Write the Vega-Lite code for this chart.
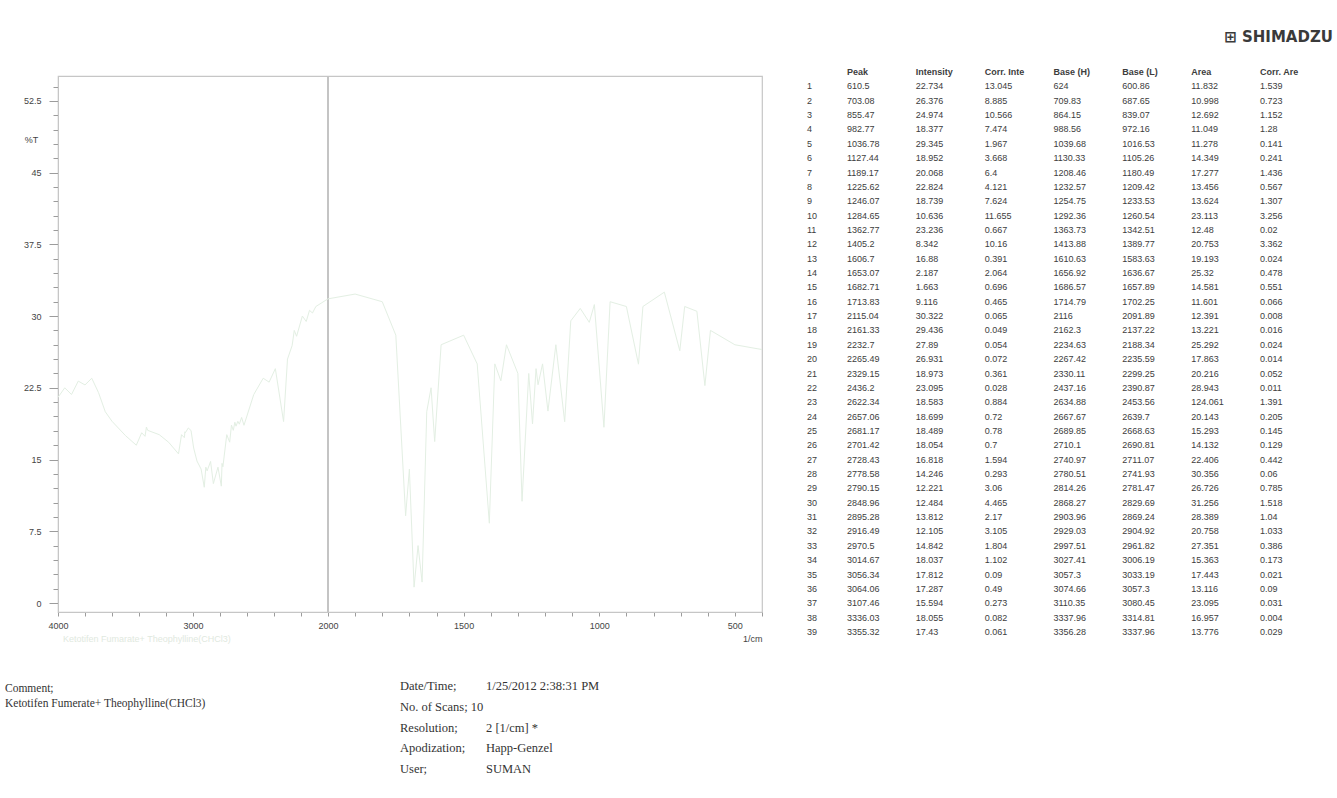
{
  "$schema": "https://vega.github.io/schema/vega-lite/v6.json",
  "width": 704,
  "height": 536,
  "autosize": {"type": "none"},
  "padding": {"left": 58, "top": 76, "right": 575, "bottom": 186},
  "background": "#ffffff",
  "config": {
    "view": {"stroke": "#c6c6c6", "strokeWidth": 1.2},
    "font": "Liberation Sans"
  },
  "title": {
    "text": "⊞ SHIMADZU",
    "anchor": "end",
    "frame": "group",
    "font": "DejaVu Sans",
    "fontSize": 15,
    "fontWeight": "bold",
    "color": "#3a3a3a",
    "baseline": "middle",
    "offset": 0,
    "dx": 571,
    "dy": -16
  },
  "datasets": {
    "spectrum": [
      {"wavenumber": 4000, "T": 21.5, "sample": "Ketotifen Fumarate+ Theophylline(CHCl3)"},
      {"wavenumber": 3950, "T": 22.5, "sample": "Ketotifen Fumarate+ Theophylline(CHCl3)"},
      {"wavenumber": 3900, "T": 21.8, "sample": "Ketotifen Fumarate+ Theophylline(CHCl3)"},
      {"wavenumber": 3850, "T": 23.2, "sample": "Ketotifen Fumarate+ Theophylline(CHCl3)"},
      {"wavenumber": 3800, "T": 22.8, "sample": "Ketotifen Fumarate+ Theophylline(CHCl3)"},
      {"wavenumber": 3750, "T": 23.5, "sample": "Ketotifen Fumarate+ Theophylline(CHCl3)"},
      {"wavenumber": 3700, "T": 22.0, "sample": "Ketotifen Fumarate+ Theophylline(CHCl3)"},
      {"wavenumber": 3650, "T": 20.0, "sample": "Ketotifen Fumarate+ Theophylline(CHCl3)"},
      {"wavenumber": 3600, "T": 19.0, "sample": "Ketotifen Fumarate+ Theophylline(CHCl3)"},
      {"wavenumber": 3500, "T": 17.5, "sample": "Ketotifen Fumarate+ Theophylline(CHCl3)"},
      {"wavenumber": 3420, "T": 16.5, "sample": "Ketotifen Fumarate+ Theophylline(CHCl3)"},
      {"wavenumber": 3380, "T": 17.8, "sample": "Ketotifen Fumarate+ Theophylline(CHCl3)"},
      {"wavenumber": 3355.32, "T": 17.43, "sample": "Ketotifen Fumarate+ Theophylline(CHCl3)"},
      {"wavenumber": 3345, "T": 18.4, "sample": "Ketotifen Fumarate+ Theophylline(CHCl3)"},
      {"wavenumber": 3336.03, "T": 18.055, "sample": "Ketotifen Fumarate+ Theophylline(CHCl3)"},
      {"wavenumber": 3250, "T": 17.6, "sample": "Ketotifen Fumarate+ Theophylline(CHCl3)"},
      {"wavenumber": 3180, "T": 16.8, "sample": "Ketotifen Fumarate+ Theophylline(CHCl3)"},
      {"wavenumber": 3107.46, "T": 15.594, "sample": "Ketotifen Fumarate+ Theophylline(CHCl3)"},
      {"wavenumber": 3085, "T": 17.6, "sample": "Ketotifen Fumarate+ Theophylline(CHCl3)"},
      {"wavenumber": 3064.06, "T": 17.287, "sample": "Ketotifen Fumarate+ Theophylline(CHCl3)"},
      {"wavenumber": 3060, "T": 17.9, "sample": "Ketotifen Fumarate+ Theophylline(CHCl3)"},
      {"wavenumber": 3056.34, "T": 17.812, "sample": "Ketotifen Fumarate+ Theophylline(CHCl3)"},
      {"wavenumber": 3035, "T": 18.3, "sample": "Ketotifen Fumarate+ Theophylline(CHCl3)"},
      {"wavenumber": 3014.67, "T": 18.037, "sample": "Ketotifen Fumarate+ Theophylline(CHCl3)"},
      {"wavenumber": 2995, "T": 16.2, "sample": "Ketotifen Fumarate+ Theophylline(CHCl3)"},
      {"wavenumber": 2970.5, "T": 14.842, "sample": "Ketotifen Fumarate+ Theophylline(CHCl3)"},
      {"wavenumber": 2940, "T": 14.0, "sample": "Ketotifen Fumarate+ Theophylline(CHCl3)"},
      {"wavenumber": 2916.49, "T": 12.105, "sample": "Ketotifen Fumarate+ Theophylline(CHCl3)"},
      {"wavenumber": 2905, "T": 14.2, "sample": "Ketotifen Fumarate+ Theophylline(CHCl3)"},
      {"wavenumber": 2895.28, "T": 13.812, "sample": "Ketotifen Fumarate+ Theophylline(CHCl3)"},
      {"wavenumber": 2870, "T": 14.8, "sample": "Ketotifen Fumarate+ Theophylline(CHCl3)"},
      {"wavenumber": 2848.96, "T": 12.484, "sample": "Ketotifen Fumarate+ Theophylline(CHCl3)"},
      {"wavenumber": 2815, "T": 14.2, "sample": "Ketotifen Fumarate+ Theophylline(CHCl3)"},
      {"wavenumber": 2790.15, "T": 12.221, "sample": "Ketotifen Fumarate+ Theophylline(CHCl3)"},
      {"wavenumber": 2785, "T": 14.6, "sample": "Ketotifen Fumarate+ Theophylline(CHCl3)"},
      {"wavenumber": 2778.58, "T": 14.246, "sample": "Ketotifen Fumarate+ Theophylline(CHCl3)"},
      {"wavenumber": 2750, "T": 17.6, "sample": "Ketotifen Fumarate+ Theophylline(CHCl3)"},
      {"wavenumber": 2728.43, "T": 16.818, "sample": "Ketotifen Fumarate+ Theophylline(CHCl3)"},
      {"wavenumber": 2715, "T": 18.6, "sample": "Ketotifen Fumarate+ Theophylline(CHCl3)"},
      {"wavenumber": 2701.42, "T": 18.054, "sample": "Ketotifen Fumarate+ Theophylline(CHCl3)"},
      {"wavenumber": 2690, "T": 18.9, "sample": "Ketotifen Fumarate+ Theophylline(CHCl3)"},
      {"wavenumber": 2681.17, "T": 18.489, "sample": "Ketotifen Fumarate+ Theophylline(CHCl3)"},
      {"wavenumber": 2668, "T": 19.0, "sample": "Ketotifen Fumarate+ Theophylline(CHCl3)"},
      {"wavenumber": 2657.06, "T": 18.699, "sample": "Ketotifen Fumarate+ Theophylline(CHCl3)"},
      {"wavenumber": 2640, "T": 19.4, "sample": "Ketotifen Fumarate+ Theophylline(CHCl3)"},
      {"wavenumber": 2622.34, "T": 18.583, "sample": "Ketotifen Fumarate+ Theophylline(CHCl3)"},
      {"wavenumber": 2550, "T": 21.8, "sample": "Ketotifen Fumarate+ Theophylline(CHCl3)"},
      {"wavenumber": 2480, "T": 23.5, "sample": "Ketotifen Fumarate+ Theophylline(CHCl3)"},
      {"wavenumber": 2436.2, "T": 23.095, "sample": "Ketotifen Fumarate+ Theophylline(CHCl3)"},
      {"wavenumber": 2390, "T": 24.5, "sample": "Ketotifen Fumarate+ Theophylline(CHCl3)"},
      {"wavenumber": 2329.15, "T": 18.973, "sample": "Ketotifen Fumarate+ Theophylline(CHCl3)"},
      {"wavenumber": 2300, "T": 25.5, "sample": "Ketotifen Fumarate+ Theophylline(CHCl3)"},
      {"wavenumber": 2265.49, "T": 26.931, "sample": "Ketotifen Fumarate+ Theophylline(CHCl3)"},
      {"wavenumber": 2250, "T": 28.5, "sample": "Ketotifen Fumarate+ Theophylline(CHCl3)"},
      {"wavenumber": 2232.7, "T": 27.89, "sample": "Ketotifen Fumarate+ Theophylline(CHCl3)"},
      {"wavenumber": 2190, "T": 30.0, "sample": "Ketotifen Fumarate+ Theophylline(CHCl3)"},
      {"wavenumber": 2161.33, "T": 29.436, "sample": "Ketotifen Fumarate+ Theophylline(CHCl3)"},
      {"wavenumber": 2137, "T": 30.6, "sample": "Ketotifen Fumarate+ Theophylline(CHCl3)"},
      {"wavenumber": 2115.04, "T": 30.322, "sample": "Ketotifen Fumarate+ Theophylline(CHCl3)"},
      {"wavenumber": 2090, "T": 31.0, "sample": "Ketotifen Fumarate+ Theophylline(CHCl3)"},
      {"wavenumber": 2000, "T": 31.8, "sample": "Ketotifen Fumarate+ Theophylline(CHCl3)"},
      {"wavenumber": 1900, "T": 32.3, "sample": "Ketotifen Fumarate+ Theophylline(CHCl3)"},
      {"wavenumber": 1800, "T": 31.5, "sample": "Ketotifen Fumarate+ Theophylline(CHCl3)"},
      {"wavenumber": 1750, "T": 28.0, "sample": "Ketotifen Fumarate+ Theophylline(CHCl3)"},
      {"wavenumber": 1713.83, "T": 9.116, "sample": "Ketotifen Fumarate+ Theophylline(CHCl3)"},
      {"wavenumber": 1700, "T": 14.0, "sample": "Ketotifen Fumarate+ Theophylline(CHCl3)"},
      {"wavenumber": 1682.71, "T": 1.663, "sample": "Ketotifen Fumarate+ Theophylline(CHCl3)"},
      {"wavenumber": 1668, "T": 6.0, "sample": "Ketotifen Fumarate+ Theophylline(CHCl3)"},
      {"wavenumber": 1653.07, "T": 2.187, "sample": "Ketotifen Fumarate+ Theophylline(CHCl3)"},
      {"wavenumber": 1636, "T": 20.0, "sample": "Ketotifen Fumarate+ Theophylline(CHCl3)"},
      {"wavenumber": 1620, "T": 22.5, "sample": "Ketotifen Fumarate+ Theophylline(CHCl3)"},
      {"wavenumber": 1606.7, "T": 16.88, "sample": "Ketotifen Fumarate+ Theophylline(CHCl3)"},
      {"wavenumber": 1583, "T": 27.0, "sample": "Ketotifen Fumarate+ Theophylline(CHCl3)"},
      {"wavenumber": 1500, "T": 28.0, "sample": "Ketotifen Fumarate+ Theophylline(CHCl3)"},
      {"wavenumber": 1450, "T": 25.0, "sample": "Ketotifen Fumarate+ Theophylline(CHCl3)"},
      {"wavenumber": 1405.2, "T": 8.342, "sample": "Ketotifen Fumarate+ Theophylline(CHCl3)"},
      {"wavenumber": 1385, "T": 25.0, "sample": "Ketotifen Fumarate+ Theophylline(CHCl3)"},
      {"wavenumber": 1362.77, "T": 23.236, "sample": "Ketotifen Fumarate+ Theophylline(CHCl3)"},
      {"wavenumber": 1342, "T": 27.0, "sample": "Ketotifen Fumarate+ Theophylline(CHCl3)"},
      {"wavenumber": 1300, "T": 24.0, "sample": "Ketotifen Fumarate+ Theophylline(CHCl3)"},
      {"wavenumber": 1284.65, "T": 10.636, "sample": "Ketotifen Fumarate+ Theophylline(CHCl3)"},
      {"wavenumber": 1260, "T": 24.0, "sample": "Ketotifen Fumarate+ Theophylline(CHCl3)"},
      {"wavenumber": 1246.07, "T": 18.739, "sample": "Ketotifen Fumarate+ Theophylline(CHCl3)"},
      {"wavenumber": 1233, "T": 24.5, "sample": "Ketotifen Fumarate+ Theophylline(CHCl3)"},
      {"wavenumber": 1225.62, "T": 22.824, "sample": "Ketotifen Fumarate+ Theophylline(CHCl3)"},
      {"wavenumber": 1209, "T": 25.0, "sample": "Ketotifen Fumarate+ Theophylline(CHCl3)"},
      {"wavenumber": 1189.17, "T": 20.068, "sample": "Ketotifen Fumarate+ Theophylline(CHCl3)"},
      {"wavenumber": 1160, "T": 27.0, "sample": "Ketotifen Fumarate+ Theophylline(CHCl3)"},
      {"wavenumber": 1127.44, "T": 18.952, "sample": "Ketotifen Fumarate+ Theophylline(CHCl3)"},
      {"wavenumber": 1105, "T": 29.5, "sample": "Ketotifen Fumarate+ Theophylline(CHCl3)"},
      {"wavenumber": 1070, "T": 30.8, "sample": "Ketotifen Fumarate+ Theophylline(CHCl3)"},
      {"wavenumber": 1036.78, "T": 29.345, "sample": "Ketotifen Fumarate+ Theophylline(CHCl3)"},
      {"wavenumber": 1018, "T": 31.2, "sample": "Ketotifen Fumarate+ Theophylline(CHCl3)"},
      {"wavenumber": 982.77, "T": 18.377, "sample": "Ketotifen Fumarate+ Theophylline(CHCl3)"},
      {"wavenumber": 960, "T": 31.5, "sample": "Ketotifen Fumarate+ Theophylline(CHCl3)"},
      {"wavenumber": 900, "T": 31.0, "sample": "Ketotifen Fumarate+ Theophylline(CHCl3)"},
      {"wavenumber": 855.47, "T": 24.974, "sample": "Ketotifen Fumarate+ Theophylline(CHCl3)"},
      {"wavenumber": 839, "T": 31.0, "sample": "Ketotifen Fumarate+ Theophylline(CHCl3)"},
      {"wavenumber": 760, "T": 32.5, "sample": "Ketotifen Fumarate+ Theophylline(CHCl3)"},
      {"wavenumber": 703.08, "T": 26.376, "sample": "Ketotifen Fumarate+ Theophylline(CHCl3)"},
      {"wavenumber": 685, "T": 31.0, "sample": "Ketotifen Fumarate+ Theophylline(CHCl3)"},
      {"wavenumber": 640, "T": 30.5, "sample": "Ketotifen Fumarate+ Theophylline(CHCl3)"},
      {"wavenumber": 610.5, "T": 22.734, "sample": "Ketotifen Fumarate+ Theophylline(CHCl3)"},
      {"wavenumber": 590, "T": 28.5, "sample": "Ketotifen Fumarate+ Theophylline(CHCl3)"},
      {"wavenumber": 500, "T": 27.0, "sample": "Ketotifen Fumarate+ Theophylline(CHCl3)"},
      {"wavenumber": 400, "T": 26.5, "sample": "Ketotifen Fumarate+ Theophylline(CHCl3)"}
    ],
    "peaks": [
      {"No": 1, "Peak": 610.5, "Intensity": 22.734, "CorrInte": 13.045, "BaseH": 624, "BaseL": 600.86, "Area": 11.832, "CorrArea": 1.539},
      {"No": 2, "Peak": 703.08, "Intensity": 26.376, "CorrInte": 8.885, "BaseH": 709.83, "BaseL": 687.65, "Area": 10.998, "CorrArea": 0.723},
      {"No": 3, "Peak": 855.47, "Intensity": 24.974, "CorrInte": 10.566, "BaseH": 864.15, "BaseL": 839.07, "Area": 12.692, "CorrArea": 1.152},
      {"No": 4, "Peak": 982.77, "Intensity": 18.377, "CorrInte": 7.474, "BaseH": 988.56, "BaseL": 972.16, "Area": 11.049, "CorrArea": 1.28},
      {"No": 5, "Peak": 1036.78, "Intensity": 29.345, "CorrInte": 1.967, "BaseH": 1039.68, "BaseL": 1016.53, "Area": 11.278, "CorrArea": 0.141},
      {"No": 6, "Peak": 1127.44, "Intensity": 18.952, "CorrInte": 3.668, "BaseH": 1130.33, "BaseL": 1105.26, "Area": 14.349, "CorrArea": 0.241},
      {"No": 7, "Peak": 1189.17, "Intensity": 20.068, "CorrInte": 6.4, "BaseH": 1208.46, "BaseL": 1180.49, "Area": 17.277, "CorrArea": 1.436},
      {"No": 8, "Peak": 1225.62, "Intensity": 22.824, "CorrInte": 4.121, "BaseH": 1232.57, "BaseL": 1209.42, "Area": 13.456, "CorrArea": 0.567},
      {"No": 9, "Peak": 1246.07, "Intensity": 18.739, "CorrInte": 7.624, "BaseH": 1254.75, "BaseL": 1233.53, "Area": 13.624, "CorrArea": 1.307},
      {"No": 10, "Peak": 1284.65, "Intensity": 10.636, "CorrInte": 11.655, "BaseH": 1292.36, "BaseL": 1260.54, "Area": 23.113, "CorrArea": 3.256},
      {"No": 11, "Peak": 1362.77, "Intensity": 23.236, "CorrInte": 0.667, "BaseH": 1363.73, "BaseL": 1342.51, "Area": 12.48, "CorrArea": 0.02},
      {"No": 12, "Peak": 1405.2, "Intensity": 8.342, "CorrInte": 10.16, "BaseH": 1413.88, "BaseL": 1389.77, "Area": 20.753, "CorrArea": 3.362},
      {"No": 13, "Peak": 1606.7, "Intensity": 16.88, "CorrInte": 0.391, "BaseH": 1610.63, "BaseL": 1583.63, "Area": 19.193, "CorrArea": 0.024},
      {"No": 14, "Peak": 1653.07, "Intensity": 2.187, "CorrInte": 2.064, "BaseH": 1656.92, "BaseL": 1636.67, "Area": 25.32, "CorrArea": 0.478},
      {"No": 15, "Peak": 1682.71, "Intensity": 1.663, "CorrInte": 0.696, "BaseH": 1686.57, "BaseL": 1657.89, "Area": 14.581, "CorrArea": 0.551},
      {"No": 16, "Peak": 1713.83, "Intensity": 9.116, "CorrInte": 0.465, "BaseH": 1714.79, "BaseL": 1702.25, "Area": 11.601, "CorrArea": 0.066},
      {"No": 17, "Peak": 2115.04, "Intensity": 30.322, "CorrInte": 0.065, "BaseH": 2116, "BaseL": 2091.89, "Area": 12.391, "CorrArea": 0.008},
      {"No": 18, "Peak": 2161.33, "Intensity": 29.436, "CorrInte": 0.049, "BaseH": 2162.3, "BaseL": 2137.22, "Area": 13.221, "CorrArea": 0.016},
      {"No": 19, "Peak": 2232.7, "Intensity": 27.89, "CorrInte": 0.054, "BaseH": 2234.63, "BaseL": 2188.34, "Area": 25.292, "CorrArea": 0.024},
      {"No": 20, "Peak": 2265.49, "Intensity": 26.931, "CorrInte": 0.072, "BaseH": 2267.42, "BaseL": 2235.59, "Area": 17.863, "CorrArea": 0.014},
      {"No": 21, "Peak": 2329.15, "Intensity": 18.973, "CorrInte": 0.361, "BaseH": 2330.11, "BaseL": 2299.25, "Area": 20.216, "CorrArea": 0.052},
      {"No": 22, "Peak": 2436.2, "Intensity": 23.095, "CorrInte": 0.028, "BaseH": 2437.16, "BaseL": 2390.87, "Area": 28.943, "CorrArea": 0.011},
      {"No": 23, "Peak": 2622.34, "Intensity": 18.583, "CorrInte": 0.884, "BaseH": 2634.88, "BaseL": 2453.56, "Area": 124.061, "CorrArea": 1.391},
      {"No": 24, "Peak": 2657.06, "Intensity": 18.699, "CorrInte": 0.72, "BaseH": 2667.67, "BaseL": 2639.7, "Area": 20.143, "CorrArea": 0.205},
      {"No": 25, "Peak": 2681.17, "Intensity": 18.489, "CorrInte": 0.78, "BaseH": 2689.85, "BaseL": 2668.63, "Area": 15.293, "CorrArea": 0.145},
      {"No": 26, "Peak": 2701.42, "Intensity": 18.054, "CorrInte": 0.7, "BaseH": 2710.1, "BaseL": 2690.81, "Area": 14.132, "CorrArea": 0.129},
      {"No": 27, "Peak": 2728.43, "Intensity": 16.818, "CorrInte": 1.594, "BaseH": 2740.97, "BaseL": 2711.07, "Area": 22.406, "CorrArea": 0.442},
      {"No": 28, "Peak": 2778.58, "Intensity": 14.246, "CorrInte": 0.293, "BaseH": 2780.51, "BaseL": 2741.93, "Area": 30.356, "CorrArea": 0.06},
      {"No": 29, "Peak": 2790.15, "Intensity": 12.221, "CorrInte": 3.06, "BaseH": 2814.26, "BaseL": 2781.47, "Area": 26.726, "CorrArea": 0.785},
      {"No": 30, "Peak": 2848.96, "Intensity": 12.484, "CorrInte": 4.465, "BaseH": 2868.27, "BaseL": 2829.69, "Area": 31.256, "CorrArea": 1.518},
      {"No": 31, "Peak": 2895.28, "Intensity": 13.812, "CorrInte": 2.17, "BaseH": 2903.96, "BaseL": 2869.24, "Area": 28.389, "CorrArea": 1.04},
      {"No": 32, "Peak": 2916.49, "Intensity": 12.105, "CorrInte": 3.105, "BaseH": 2929.03, "BaseL": 2904.92, "Area": 20.758, "CorrArea": 1.033},
      {"No": 33, "Peak": 2970.5, "Intensity": 14.842, "CorrInte": 1.804, "BaseH": 2997.51, "BaseL": 2961.82, "Area": 27.351, "CorrArea": 0.386},
      {"No": 34, "Peak": 3014.67, "Intensity": 18.037, "CorrInte": 1.102, "BaseH": 3027.41, "BaseL": 3006.19, "Area": 15.363, "CorrArea": 0.173},
      {"No": 35, "Peak": 3056.34, "Intensity": 17.812, "CorrInte": 0.09, "BaseH": 3057.3, "BaseL": 3033.19, "Area": 17.443, "CorrArea": 0.021},
      {"No": 36, "Peak": 3064.06, "Intensity": 17.287, "CorrInte": 0.49, "BaseH": 3074.66, "BaseL": 3057.3, "Area": 13.116, "CorrArea": 0.09},
      {"No": 37, "Peak": 3107.46, "Intensity": 15.594, "CorrInte": 0.273, "BaseH": 3110.35, "BaseL": 3080.45, "Area": 23.095, "CorrArea": 0.031},
      {"No": 38, "Peak": 3336.03, "Intensity": 18.055, "CorrInte": 0.082, "BaseH": 3337.96, "BaseL": 3314.81, "Area": 16.957, "CorrArea": 0.004},
      {"No": 39, "Peak": 3355.32, "Intensity": 17.43, "CorrInte": 0.061, "BaseH": 3356.28, "BaseL": 3337.96, "Area": 13.776, "CorrArea": 0.029}
    ],
    "headers": [
      {"No": 0, "col": "Peak", "label": "Peak"},
      {"No": 0, "col": "Intensity", "label": "Intensity"},
      {"No": 0, "col": "CorrInte", "label": "Corr. Inte"},
      {"No": 0, "col": "BaseH", "label": "Base (H)"},
      {"No": 0, "col": "BaseL", "label": "Base (L)"},
      {"No": 0, "col": "Area", "label": "Area"},
      {"No": 0, "col": "CorrArea", "label": "Corr. Are"}
    ],
    "comment": [
      {"line": 0, "block": "comment", "text": "Comment;"},
      {"line": 1, "block": "comment", "text": "Ketotifen Fumerate+ Theophylline(CHCl3)"}
    ],
    "info": [
      {"line": 0, "label": "Date/Time;", "value": "1/25/2012 2:38:31 PM"},
      {"line": 1, "label": "No. of Scans; 10", "value": ""},
      {"line": 2, "label": "Resolution;", "value": "2 [1/cm] *"},
      {"line": 3, "label": "Apodization;", "value": "Happ-Genzel"},
      {"line": 4, "label": "User;", "value": "\u00a0\u00a0\u00a0\u00a0\u00a0SUMAN"}
    ],
    "boundary": [{"split": 2000}]
  },
  "layer": [
    {
      "layer": [
        {
          "data": {"name": "boundary"},
          "mark": {"type": "rule", "color": "#c4c4c4", "strokeWidth": 2},
          "encoding": {
            "x": {"field": "split", "type": "quantitative",
                  "scale": {"domain": [4000, 2000, 400], "range": [0, 270, 704], "nice": false, "zero": false}}
          }
        },
        {
          "data": {"name": "spectrum"},
          "mark": {"type": "line", "strokeWidth": 1, "clip": true},
          "encoding": {
            "x": {
              "field": "wavenumber", "type": "quantitative",
              "scale": {"domain": [4000, 2000, 400], "range": [0, 270, 704], "nice": false, "zero": false},
              "axis": {
                "values": [4000, 3800, 3600, 3400, 3200, 3000, 2800, 2600, 2400, 2200, 2000, 1900, 1800, 1700, 1600, 1500, 1400, 1300, 1200, 1100, 1000, 900, 800, 700, 600, 500, 400],
                "tickCount": 200,
                "labelExpr": "indexof([4000,3000,2000,1500,1000,500], datum.value) >= 0 ? '' + datum.value : ''",
                "labelOverlap": false,
                "labelFlush": false,
                "labelBound": false,
                "grid": false,
                "tickSize": 4,
                "tickColor": "#9c9c9c",
                "domainColor": "#c6c6c6",
                "labelFontSize": 9,
                "labelColor": "#444444",
                "labelPadding": 5,
                "title": "1/cm",
                "titleFontSize": 9,
                "titleFontWeight": "normal",
                "titleColor": "#444444",
                "titleAlign": "right",
                "titleAnchor": "end",
                "titleBaseline": "middle",
                "titleX": 704,
                "titleY": 26
              }
            },
            "y": {
              "field": "T", "type": "quantitative",
              "scale": {"domain": [-0.94, 55.1], "nice": false, "zero": false},
              "axis": {
                "values": [0, 1.5, 3, 4.5, 6, 7.5, 9, 10.5, 12, 13.5, 15, 16.5, 18, 19.5, 21, 22.5, 24, 25.5, 27, 28.5, 30, 31.5, 33, 34.5, 36, 37.5, 39, 40.5, 42, 43.5, 45, 46.5, 48, 49.5, 51, 52.5, 54],
                "tickCount": 200,
                "labelExpr": "datum.value % 7.5 === 0 ? '' + datum.value : ''",
                "labelOverlap": false,
                "labelFlush": false,
                "labelBound": false,
                "grid": false,
                "tickSize": {"condition": {"test": "datum.value % 7.5 === 0", "value": 9}, "value": 5},
                "tickColor": "#9c9c9c",
                "domainColor": "#c6c6c6",
                "labelFontSize": 9,
                "labelColor": "#444444",
                "labelPadding": 8,
                "title": "%T",
                "titleAngle": 0,
                "titleFontSize": 9,
                "titleFontWeight": "normal",
                "titleColor": "#444444",
                "titleAlign": "center",
                "titleBaseline": "middle",
                "titleX": -27,
                "titleY": 63
              }
            },
            "color": {
              "field": "sample", "type": "nominal",
              "scale": {"range": ["#e3efe3"]},
              "legend": {
                "orient": "none",
                "legendX": -4,
                "legendY": 558,
                "title": null,
                "labelFontSize": 9,
                "labelColor": "#dfe9e0",
                "labelLimit": 0,
                "symbolOpacity": 0,
                "symbolSize": 1,
                "labelOffset": 0
              }
            }
          }
        }
      ]
    },
    {
      "layer": [
        {
          "data": {"name": "peaks"},
          "transform": [{"fold": ["Peak", "Intensity", "CorrInte", "BaseH", "BaseL", "Area", "CorrArea"], "as": ["col", "val"]}],
          "mark": {"type": "text", "align": "left", "baseline": "middle", "fontSize": 9, "color": "#3d3d3d", "font": "Liberation Sans"},
          "encoding": {
            "x": {"field": "col", "type": "nominal",
                  "scale": {"domain": ["Peak", "Intensity", "CorrInte", "BaseH", "BaseL", "Area", "CorrArea"], "range": [789, 1202], "padding": 0},
                  "axis": null},
            "y": {"field": "No", "type": "quantitative",
                  "scale": {"domain": [0, 39], "range": [-4, 556], "nice": false, "zero": false},
                  "axis": null},
            "text": {"field": "val", "type": "nominal"}
          }
        },
        {
          "data": {"name": "headers"},
          "mark": {"type": "text", "align": "left", "baseline": "middle", "fontSize": 9, "fontWeight": "bold", "color": "#3d3d3d", "font": "Liberation Sans"},
          "encoding": {
            "x": {"field": "col", "type": "nominal",
                  "scale": {"domain": ["Peak", "Intensity", "CorrInte", "BaseH", "BaseL", "Area", "CorrArea"], "range": [789, 1202], "padding": 0},
                  "axis": null},
            "y": {"field": "No", "type": "quantitative",
                  "scale": {"domain": [0, 39], "range": [-4, 556], "nice": false, "zero": false},
                  "axis": null},
            "text": {"field": "label", "type": "nominal"}
          }
        }
      ]
    },
    {
      "data": {"name": "peaks"},
      "mark": {"type": "text", "align": "left", "baseline": "middle", "fontSize": 9, "color": "#3d3d3d", "font": "Liberation Sans"},
      "encoding": {
        "x": {"datum": "No", "type": "nominal", "scale": {"domain": ["No"], "range": [749, 749], "padding": 0}, "axis": null},
        "y": {"field": "No", "type": "quantitative", "scale": {"domain": [0, 39], "range": [-4, 556], "nice": false, "zero": false}, "axis": null},
        "text": {"field": "No", "type": "nominal"}
      }
    },
    {
      "data": {"name": "comment"},
      "mark": {"type": "text", "align": "left", "baseline": "middle", "fontSize": 11.5, "color": "#333333", "font": "Liberation Serif"},
      "encoding": {
        "x": {"field": "block", "type": "nominal", "scale": {"domain": ["comment"], "range": [-53, -53], "padding": 0}, "axis": null},
        "y": {"field": "line", "type": "quantitative", "scale": {"domain": [0, 1], "range": [613, 628], "nice": false, "zero": false}, "axis": null},
        "text": {"field": "text", "type": "nominal"}
      }
    },
    {
      "data": {"name": "info"},
      "transform": [{"fold": ["label", "value"], "as": ["part", "txt"]}],
      "mark": {"type": "text", "align": "left", "baseline": "middle", "fontSize": 12.5, "color": "#333333", "font": "Liberation Serif"},
      "encoding": {
        "x": {"field": "part", "type": "nominal", "scale": {"domain": ["label", "value"], "range": [342, 428], "padding": 0}, "axis": null},
        "y": {"field": "line", "type": "quantitative", "scale": {"domain": [0, 4], "range": [610, 693], "nice": false, "zero": false}, "axis": null},
        "text": {"field": "txt", "type": "nominal"}
      }
    }
  ],
  "resolve": {"scale": {"x": "independent", "y": "independent", "color": "independent"}}
}
